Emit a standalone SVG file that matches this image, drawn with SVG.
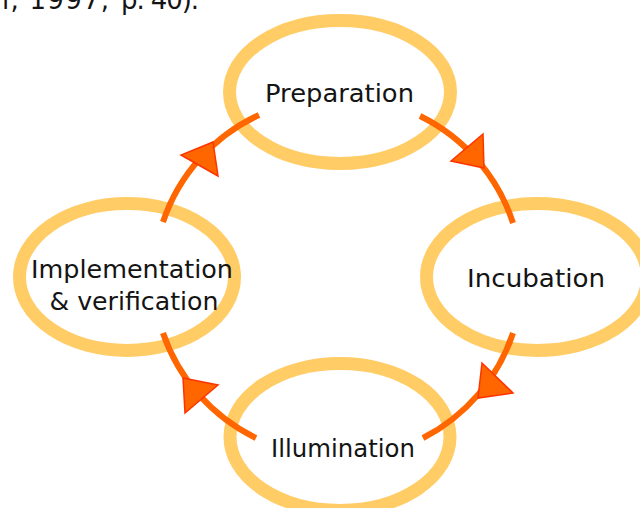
<svg xmlns="http://www.w3.org/2000/svg" width="640" height="508" viewBox="0 0 640 508">
<style>
.ring{fill:#ffffff;stroke:#FFCC66;stroke-width:13}
.lbl{font-family:"DejaVu Sans","Liberation Sans",sans-serif;font-size:25px;fill:#141414;text-anchor:middle}
.arc{fill:none;stroke:#FF6600;stroke-width:6}
.head{fill:#FF6600;stroke:#FF3300;stroke-width:1.5;stroke-linejoin:miter}
.top{font-family:"DejaVu Sans","Liberation Sans",sans-serif;font-size:26px;fill:#141414}
</style>
<rect width="640" height="508" fill="#ffffff"/>
<text class="top" y="9"><tspan x="2" textLength="107" lengthAdjust="spacing">l, 1997,</tspan><tspan x="121" textLength="78" lengthAdjust="spacing">p. 40).</tspan></text>
<g id="preparation">
<ellipse class="ring" cx="340" cy="92" rx="110.5" ry="71.5"/>
<text class="lbl" x="339.5" y="102" textLength="149" lengthAdjust="spacingAndGlyphs">Preparation</text>
</g>
<g id="incubation">
<ellipse class="ring" cx="537" cy="277" rx="110.5" ry="73.5"/>
<text class="lbl" x="536" y="287" textLength="138" lengthAdjust="spacingAndGlyphs">Incubation</text>
</g>
<g id="illumination">
<ellipse class="ring" cx="340" cy="437" rx="110" ry="73.5"/>
<text class="lbl" x="343" y="457" textLength="144" lengthAdjust="spacingAndGlyphs">Illumination</text>
</g>
<g id="implementation">
<ellipse class="ring" cx="127" cy="277" rx="107.5" ry="73.5"/>
<text class="lbl" x="132" y="278" textLength="202" lengthAdjust="spacingAndGlyphs">Implementation</text>
<text class="lbl" x="134" y="310" textLength="169" lengthAdjust="spacingAndGlyphs">&amp; verification</text>
</g>
<g id="connectors">
<path class="arc" d="M420,116 A182,182 0 0 1 513,223"/>
<polygon class="head" points="484,168 451,161 483,134"/>
<path class="arc" d="M513,333 A182,182 0 0 1 423,438"/>
<polygon class="head" points="478,398 482,363 513,393"/>
<path class="arc" d="M256,438 A182,182 0 0 1 163,333"/>
<polygon class="head" points="183,378 218,385 185,413"/>
<path class="arc" d="M163,222 A182,182 0 0 1 259,115"/>
<polygon class="head" points="213,142 181,155 218,176"/>
</g>
</svg>
